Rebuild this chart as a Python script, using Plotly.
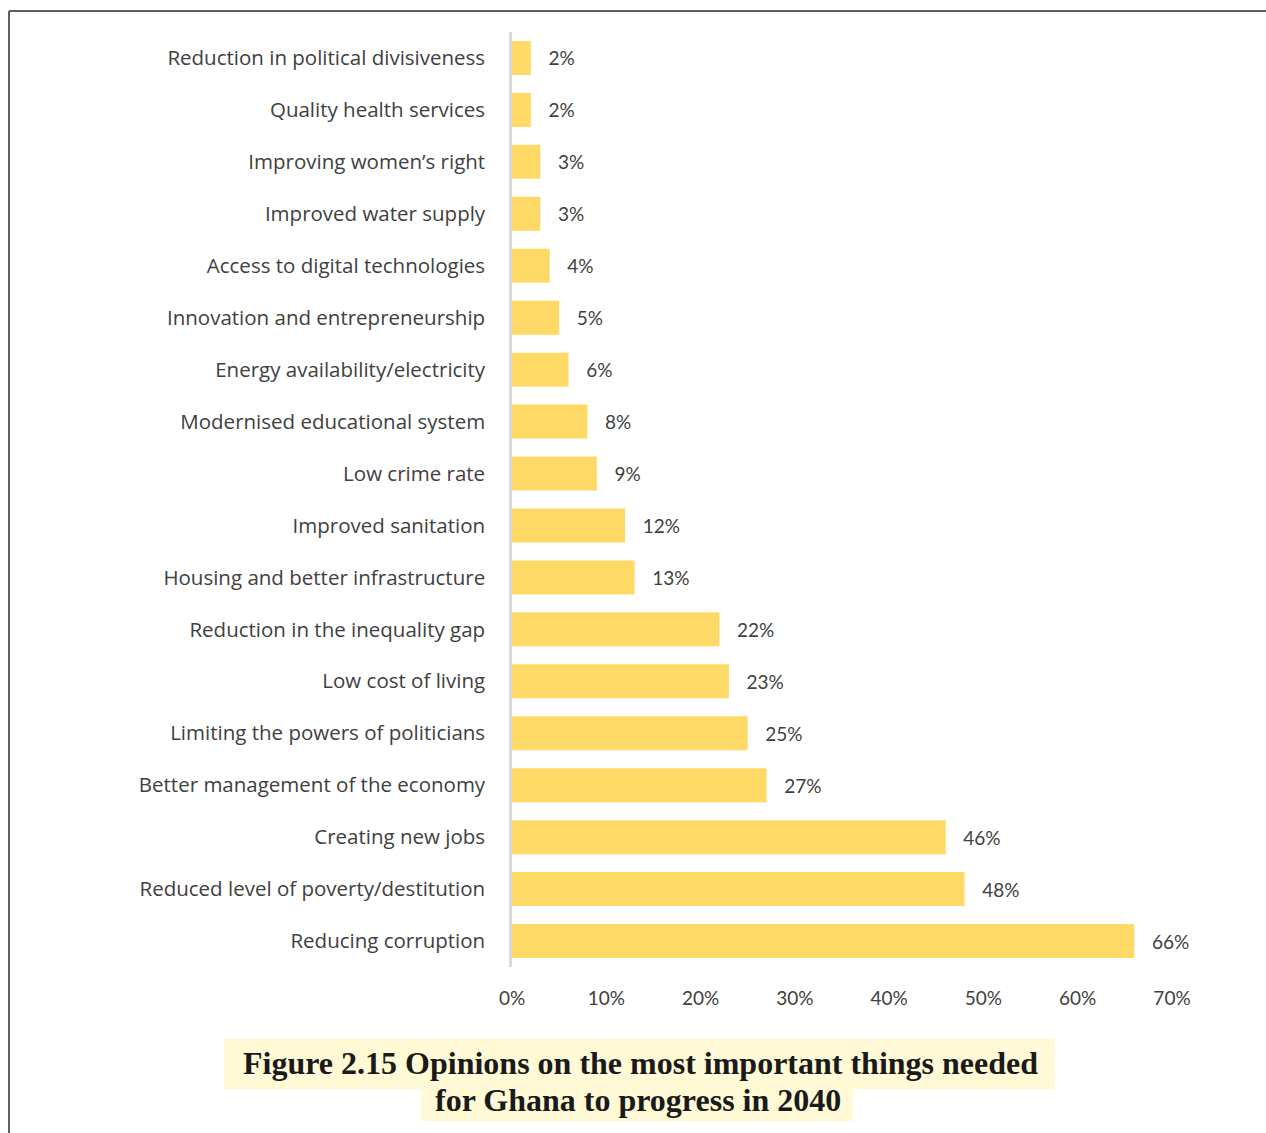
import plotly.graph_objects as go

# Survey results, listed top to bottom as drawn
categories = [
    "Reduction in political divisiveness",
    "Quality health services",
    "Improving women\u2019s right",
    "Improved water supply",
    "Access to digital technologies",
    "Innovation and entrepreneurship",
    "Energy availability/electricity",
    "Modernised educational system",
    "Low crime rate",
    "Improved sanitation",
    "Housing and better infrastructure",
    "Reduction in the inequality gap",
    "Low cost of living",
    "Limiting the powers of politicians",
    "Better management of the economy",
    "Creating new jobs",
    "Reduced level of poverty/destitution",
    "Reducing corruption",
]
shares = [0.02, 0.02, 0.03, 0.03, 0.04, 0.05, 0.06, 0.08, 0.09, 0.12,
          0.13, 0.22, 0.23, 0.25, 0.27, 0.46, 0.48, 0.66]
x_ticks = [0, 0.1, 0.2, 0.3, 0.4, 0.5, 0.6, 0.7]
x_tick_labels = ["0%", "10%", "20%", "30%", "40%", "50%", "60%", "70%"]
caption_lines = [
    "Figure 2.15 Opinions on the most important things needed",
    "for Ghana to progress in 2040",
]

W, H = 1266, 1133
ML, MR, MT, MB = 512, 94, 32, 166
PW, PH = W - ML - MR, H - MT - MB


def px(x):
    return (x - ML) / PW


def py(y):
    return (H - MB - y) / PH


TEXT = "#404040"
FONT = "Lato"

fig = go.Figure(
    go.Bar(
        x=shares,
        y=categories,
        orientation="h",
        marker=dict(color="#FFD966", line=dict(width=0)),
        texttemplate="\u00a0\u00a0\u00a0%{x:.0%}",
        textposition="outside",
        textfont=dict(family=FONT, size=19, color=TEXT),
        cliponaxis=False,
        constraintext="none",
        hoverinfo="skip",
    )
)

shapes = [
    # caption highlight boxes
    dict(type="rect", xref="paper", yref="paper", layer="below",
         x0=px(224), x1=px(1055), y0=py(1089), y1=py(1039),
         fillcolor="#FFF9D6", line=dict(width=0)),
    dict(type="rect", xref="paper", yref="paper", layer="below",
         x0=px(421), x1=px(853), y0=py(1121), y1=py(1087),
         fillcolor="#FFF9D6", line=dict(width=0)),
    # page frame (left and top edges)
    dict(type="line", xref="paper", yref="paper",
         x0=px(9), x1=px(9), y0=py(1140), y1=py(11),
         line=dict(color="#5f5f5f", width=2)),
    dict(type="line", xref="paper", yref="paper",
         x0=px(9), x1=px(1270), y0=py(11), y1=py(11),
         line=dict(color="#5f5f5f", width=2)),
]

annotations = [
    dict(text="<b>%s</b>" % caption_lines[0], xref="paper", yref="paper",
         x=px(640), y=py(1063), xanchor="center", yanchor="middle",
         showarrow=False,
         font=dict(family="Liberation Serif", size=32, color="#1a1a1a")),
    dict(text="<b>%s</b>" % caption_lines[1], xref="paper", yref="paper",
         x=px(638), y=py(1100), xanchor="center", yanchor="middle",
         showarrow=False,
         font=dict(family="Liberation Serif", size=32, color="#1a1a1a")),
]

fig.update_layout(
    width=W, height=H,
    margin=dict(l=ML, r=MR, t=MT, b=MB, pad=0),
    paper_bgcolor="white", plot_bgcolor="white",
    showlegend=False,
    bargap=0.345,
    shapes=shapes,
    annotations=annotations,
    font=dict(family=FONT, color=TEXT),
)
fig.update_xaxes(
    range=[0, 0.7],
    tickvals=x_ticks, ticktext=x_tick_labels,
    showgrid=False, zeroline=False, showline=False,
    tickfont=dict(family=FONT, size=19, color=TEXT),
    ticklabelstandoff=18,
    fixedrange=True,
)
fig.update_yaxes(
    autorange="reversed",
    showgrid=False, zeroline=False,
    showline=True, linecolor="#D9D9D9", linewidth=2.5,
    tickfont=dict(family="Open Sans", size=20.5, color=TEXT),
    ticklabelstandoff=20,
    fixedrange=True,
)

fig.write_html("out.html", config={"displayModeBar": False})
